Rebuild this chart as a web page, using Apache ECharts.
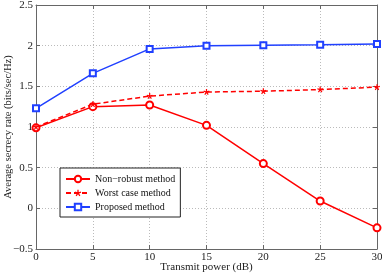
<!DOCTYPE html>
<html><head><meta charset="utf-8">
<script src="https://cdn.jsdelivr.net/npm/echarts@6/dist/echarts.min.js"></script>
<style>html,body{margin:0;padding:0;background:#fff}#c{width:382px;height:273px}</style>
</head><body><div id="c"></div>
<script>
const xCats = [0, 5, 10, 15, 20, 25, 30];
const nonRobust = [0.99, 1.25, 1.27, 1.02, 0.55, 0.09, -0.24];
const worstCase = [1.00, 1.28, 1.38, 1.43, 1.44, 1.46, 1.49];
const proposed = [1.23, 1.66, 1.96, 2.00, 2.005, 2.01, 2.02];
const seriesNames = ['Non\u2212robust method', 'Worst case method', 'Proposed method'];

const font = 'Liberation Serif';
const pair = (arr) => xCats.map((x, i) => [x, arr[i]]);
const star = 'path://M4,0L6,0L6,3.6L9.4,2.5L10,4.4L6.6,5.5L8.7,8.4L7.1,9.6L5,6.7L2.9,9.6L1.3,8.4L3.4,5.5L0,4.4L0.6,2.5L4,3.6Z';
const chart = echarts.init(document.getElementById('c'));
const axisCommon = {
  axisLine: {show: true, onZero: false, lineStyle: {color: '#666', width: 1}},
  axisTick: {inside: true, length: 4, lineStyle: {color: '#666'}},
};
chart.setOption({
  animation: false,
  grid: {left: 36, right: 5, top: 5, bottom: 24, show: false, containLabel: false, outerBoundsMode: 'none'},
  legend: {
    orient: 'vertical', left: 60, top: 168,
    backgroundColor: '#fff', borderColor: '#222', borderWidth: 1,
    padding: [5, 5, 4, 5], itemGap: 2, itemWidth: 24, itemHeight: 8,
    textStyle: {fontFamily: font, fontSize: 10, lineHeight: 12, color: '#111', padding: [0, 0, 0, 0]},
    data: seriesNames
  },
  xAxis: [{
    type: 'value', min: 0, max: 30, interval: 5, position: 'bottom',
    ...axisCommon,
    axisLabel: {fontFamily: font, fontSize: 11, color: '#222', margin: 3},
    splitLine: {show: true, lineStyle: {type: [1, 2], color: '#bbb'}},
    name: 'Transmit power (dB)', nameLocation: 'middle', nameGap: 13, nameMoveOverlap: false,
    nameTextStyle: {fontFamily: font, fontSize: 11, color: '#222'}
  }, {
    type: 'value', min: 0, max: 30, interval: 5, position: 'top',
    ...axisCommon, axisLabel: {show: false}, splitLine: {show: false}
  }],
  yAxis: [{
    type: 'value', min: -0.5, max: 2.5, interval: 0.5, position: 'left',
    ...axisCommon,
    axisLabel: {fontFamily: font, fontSize: 11, color: '#222', margin: 3,
      formatter: v => String(v).replace('-', '\u2212')},
    splitLine: {show: true, lineStyle: {type: [1, 2], color: '#bbb'}},
    name: 'Average secrecy rate (bits/sec/Hz)', nameLocation: 'middle', nameGap: 22, nameMoveOverlap: false,
    nameTextStyle: {fontFamily: font, fontSize: 10.5, color: '#222'}
  }, {
    type: 'value', min: -0.5, max: 2.5, interval: 0.5, position: 'right',
    ...axisCommon, axisLabel: {show: false}, splitLine: {show: false}
  }],
  series: [{
    name: seriesNames[0], type: 'line', data: pair(nonRobust),
    symbol: 'emptyCircle', symbolSize: 7, color: '#ff0000',
    lineStyle: {width: 1.5, color: '#ff0000'},
    itemStyle: {color: '#ff0000', borderWidth: 1.3}
  }, {
    name: seriesNames[1], type: 'line', data: pair(worstCase),
    symbol: star, symbolSize: 6, color: '#ff0000',
    lineStyle: {width: 1.5, type: [5, 3], color: '#ff0000'},
    itemStyle: {color: '#ff0000'}
  }, {
    name: seriesNames[2], type: 'line', data: pair(proposed),
    symbol: 'emptyRect', symbolSize: 6, color: '#2040ff',
    lineStyle: {width: 1.5, color: '#2040ff'},
    itemStyle: {color: '#2040ff', borderWidth: 1.2}
  }]
});
</script></body></html>
